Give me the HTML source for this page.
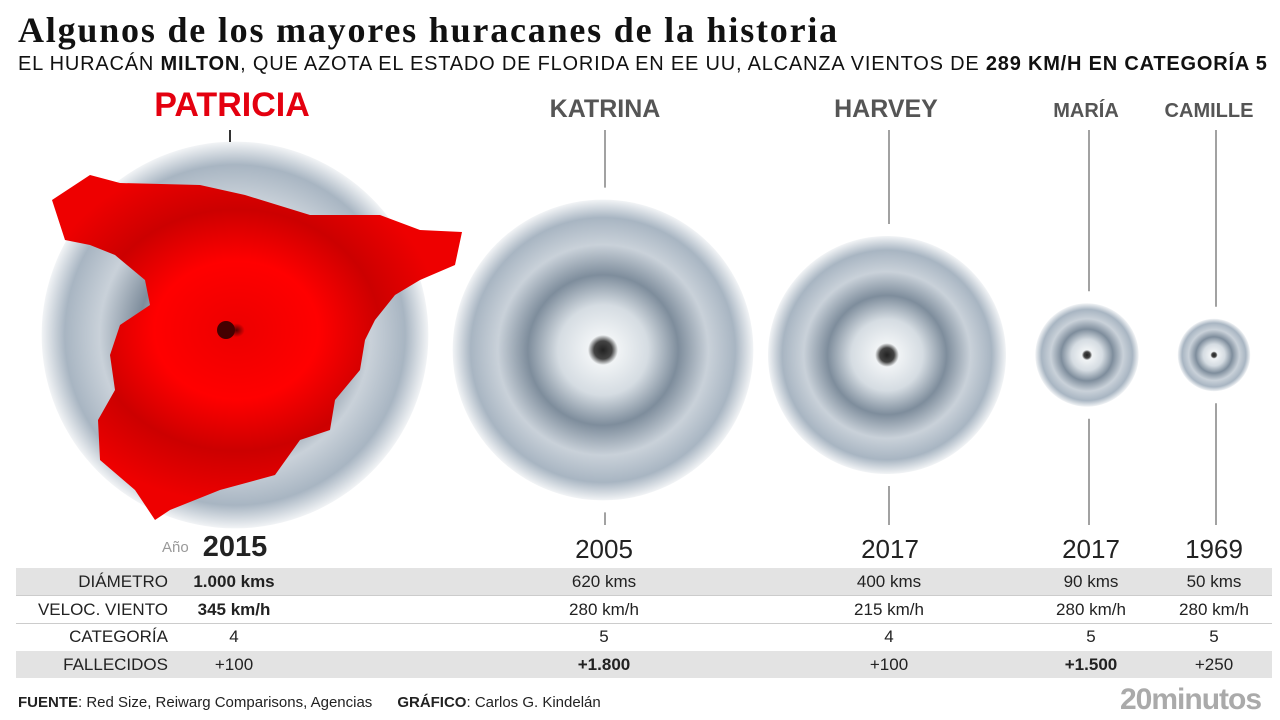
<!DOCTYPE html>
<html><head><meta charset="utf-8">
<style>
body{margin:0;width:1280px;height:720px;background:#fff;font-family:"Liberation Sans",sans-serif;position:relative;overflow:hidden;color:#222}
.abs{position:absolute}
h1{position:absolute;left:18px;top:9px;margin:0;font-family:"Liberation Serif",serif;font-size:36px;font-weight:bold;color:#111;letter-spacing:1.8px;white-space:nowrap}
.sub{left:18px;top:53px;font-size:20px;color:#111;white-space:nowrap;letter-spacing:0.8px}
.name{font-weight:bold;color:#555;text-align:center;transform:translateX(-50%);white-space:nowrap}
.yr{font-size:26px;color:#222;transform:translateX(-50%)}
.row{left:16px;width:1256px;height:27px}
.cell{position:absolute;top:4px;font-size:17px;transform:translateX(-50%);white-space:nowrap}
.lab{position:absolute;top:4px;font-size:17px;right:1104px;white-space:nowrap;color:#222}
</style></head><body>
<h1>Algunos de los mayores huracanes de la historia</h1>
<div class="abs sub">EL HURACÁN <b>MILTON</b>, QUE AZOTA EL ESTADO DE FLORIDA EN EE UU, ALCANZA VIENTOS DE <b>289 KM/H EN CATEGORÍA 5</b></div>
<svg class="abs" style="left:0;top:0" width="1280" height="720" id="chart">
<defs>
<radialGradient id="hg"><stop offset="0" stop-color="#222"/><stop offset="0.06" stop-color="#444"/><stop offset="0.1" stop-color="#f0f3f5"/><stop offset="0.3" stop-color="#d5dce2"/><stop offset="0.5" stop-color="#7e8d9c"/><stop offset="0.7" stop-color="#c9d1d9"/><stop offset="0.88" stop-color="#a8b5c2"/><stop offset="1" stop-color="#f2f4f6"/></radialGradient>
<radialGradient id="rg" cx="0.45" cy="0.45"><stop offset="0" stop-color="#500"/><stop offset="0.04" stop-color="#e00"/><stop offset="0.4" stop-color="#f00"/><stop offset="0.7" stop-color="#c00"/><stop offset="1" stop-color="#e00"/></radialGradient>
</defs>
<g id="marks"></g>
</svg>
<div class="abs" style="left:229px;top:130px;width:2px;height:12px;background:#333"></div>
<div class="abs name" style="left:232px;top:86px;font-size:34px;color:#e4000f">PATRICIA</div>
<div class="abs name" style="left:605px;top:95px;font-size:25px">KATRINA</div>
<div class="abs name" style="left:886px;top:95px;font-size:25px">HARVEY</div>
<div class="abs name" style="left:1086px;top:100px;font-size:20px">MARÍA</div>
<div class="abs name" style="left:1209px;top:100px;font-size:20px">CAMILLE</div>
<div class="abs" style="left:162px;top:539px;font-size:15px;color:#999">Año</div>
<div class="abs yr" style="left:235px;top:531px;font-weight:bold;font-size:29px">2015</div>
<div class="abs yr" style="left:604px;top:534px">2005</div>
<div class="abs yr" style="left:890px;top:534px">2017</div>
<div class="abs yr" style="left:1091px;top:534px">2017</div>
<div class="abs yr" style="left:1214px;top:534px">1969</div>

<div class="abs row" style="top:568px;background:#e3e3e3">
<span class="lab">DIÁMETRO</span><span class="cell" style="left:218px;font-weight:bold">1.000 kms</span><span class="cell" style="left:588px">620 kms</span><span class="cell" style="left:873px">400 kms</span><span class="cell" style="left:1075px">90 kms</span><span class="cell" style="left:1198px">50 kms</span></div>
<div class="abs row" style="top:595px;border-top:1px solid #ccc;border-bottom:1px solid #ccc">
<span class="lab">VELOC. VIENTO</span><span class="cell" style="left:218px;font-weight:bold">345 km/h</span><span class="cell" style="left:588px">280 km/h</span><span class="cell" style="left:873px">215 km/h</span><span class="cell" style="left:1075px">280 km/h</span><span class="cell" style="left:1198px">280 km/h</span></div>
<div class="abs row" style="top:623px">
<span class="lab">CATEGORÍA</span><span class="cell" style="left:218px">4</span><span class="cell" style="left:588px">5</span><span class="cell" style="left:873px">4</span><span class="cell" style="left:1075px">5</span><span class="cell" style="left:1198px">5</span></div>
<div class="abs row" style="top:651px;background:#e3e3e3">
<span class="lab">FALLECIDOS</span><span class="cell" style="left:218px">+100</span><span class="cell" style="left:588px;font-weight:bold">+1.800</span><span class="cell" style="left:873px">+100</span><span class="cell" style="left:1075px;font-weight:bold">+1.500</span><span class="cell" style="left:1198px">+250</span></div>

<div class="abs" style="left:18px;top:694px;font-size:15px"><b>FUENTE</b>: Red Size, Reiwarg Comparisons, Agencias &nbsp;&nbsp;&nbsp;&nbsp; <b>GRÁFICO</b>: Carlos G. Kindelán</div>
<div class="abs" style="left:1120px;top:683px;font-size:30px;font-weight:bold;color:#aaa;letter-spacing:-1px">20minutos</div>
<script>
const names=["Patricia","Katrina","Harvey","Maria","Camille"];
const diameters=[1000,620,400,90,50];
const centersX=[235,603,887,1087,1214];
const centersY=[335,350,355,355,355];
const NS="http://www.w3.org/2000/svg";
const g=document.getElementById('marks');
const rScale=d=>6.4*Math.sqrt(d)-9;
names.forEach((n,i)=>{
  const r=rScale(diameters[i]);
  const c=document.createElementNS(NS,'circle');
  c.setAttribute('cx',centersX[i]);c.setAttribute('cy',centersY[i]);c.setAttribute('r',r);
  c.setAttribute('fill','url(#hg)');
  
  
  g.appendChild(c);
  if(i>0){
    [[130,centersY[i]-r-12],[centersY[i]+r+12,525]].forEach(([a,b])=>{
      const l=document.createElementNS(NS,'line');
      l.setAttribute('x1',centersX[i]+2);l.setAttribute('x2',centersX[i]+2);
      l.setAttribute('y1',a);l.setAttribute('y2',b);l.setAttribute('stroke','#444');
      
      
      g.appendChild(l);
    });
  }
});
const spain=document.createElementNS(NS,'polygon');
spain.setAttribute('points',"52,200 90,175 120,183 200,185 245,195 310,215 380,215 420,230 462,232 455,265 420,280 395,295 375,320 365,340 360,370 335,400 330,430 300,440 275,475 220,490 170,510 155,520 135,490 100,460 98,420 115,390 110,355 120,325 150,305 145,280 115,255 90,245 65,240");
spain.setAttribute('fill','url(#rg)');


g.appendChild(spain);
const eye=document.createElementNS(NS,'circle');
eye.setAttribute('cx',226);eye.setAttribute('cy',330);eye.setAttribute('r',9);eye.setAttribute('fill','#400');


g.appendChild(eye);
</script>
</body></html>
